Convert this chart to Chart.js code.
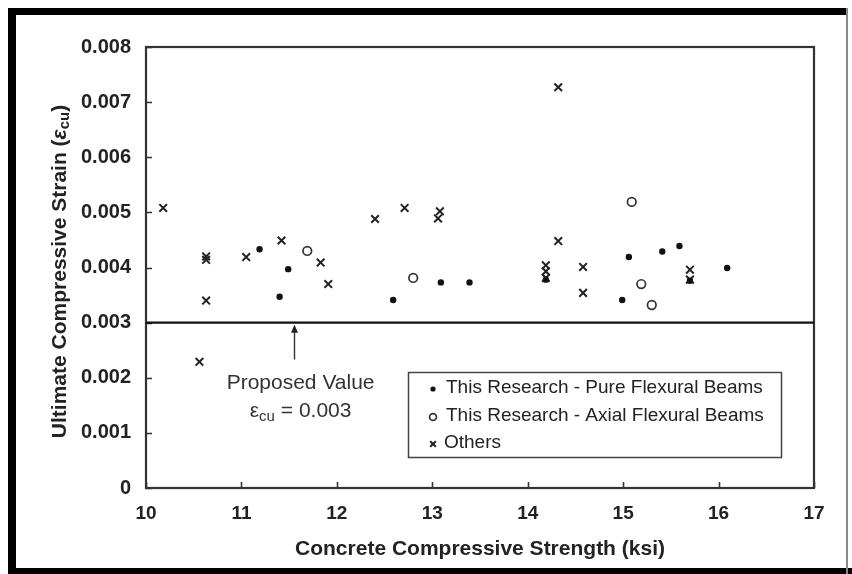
<!DOCTYPE html>
<html>
<head>
<meta charset="utf-8">
<script src="https://cdn.jsdelivr.net/npm/chart.js@4/dist/chart.umd.min.js"></script>
<style>
  html, body { margin: 0; padding: 0; background: #fff; }
  #wrap { position: relative; width: 852px; height: 574px; }
</style>
</head>
<body>
<div id="wrap"><canvas id="c" width="852" height="574"></canvas></div>
<script>
// Concrete compressive strength (ksi) vs. ultimate compressive strain
const pureStrength  = [11.19, 11.40, 11.49, 12.59, 13.09, 13.39, 14.19, 14.99, 15.06, 15.41, 15.59, 15.70, 16.09];
const pureStrain    = [0.00433, 0.00347, 0.00397, 0.00341, 0.00373, 0.00373, 0.00378, 0.00341, 0.00419, 0.00429, 0.00439, 0.00376, 0.00399];

const axialStrength = [11.69, 12.80, 15.09, 15.19, 15.30];
const axialStrain   = [0.00430, 0.00381, 0.00519, 0.00370, 0.00332];

const otherStrength = [10.18, 10.56, 10.63, 10.63, 10.63, 11.05, 11.42, 11.83, 11.91, 12.40, 12.71, 13.06, 13.08, 14.19, 14.19, 14.19, 14.32, 14.32, 14.58, 14.58, 15.70, 15.70];
const otherStrain   = [0.00508, 0.00229, 0.00420, 0.00414, 0.00340, 0.00419, 0.00449, 0.00409, 0.00370, 0.00488, 0.00508, 0.00489, 0.00502, 0.00404, 0.00393, 0.00381, 0.00727, 0.00448, 0.00401, 0.00354, 0.00396, 0.00378];

const seriesNames = ['This Research - Pure Flexural Beams', 'This Research - Axial Flexural Beams', 'Others'];

const xTickValues = [10, 11, 12, 13, 14, 15, 16, 17];
const yTickLabels = ['0', '0.001', '0.002', '0.003', '0.004', '0.005', '0.006', '0.007', '0.008'];

const proposedStrain = 0.003;     // design value line
const arrowStrength = 11.55;      // where the callout arrow points at the line
const xTitle = 'Concrete Compressive Strength (ksi)';

const TEXT = '#222';
const FONT = '"Liberation Sans", Arial, Helvetica, sans-serif';

const toPoints = (xs, ys) => xs.map((x, i) => ({ x, y: ys[i] }));

const markerStyles = [
  { pointStyle: 'circle',   radius: 3.2, borderWidth: 0,   fill: '#111', stroke: '#111' },
  { pointStyle: 'circle',   radius: 4.3, borderWidth: 1.7, fill: '#fff', stroke: '#333' },
  { pointStyle: 'crossRot', radius: 5.4, borderWidth: 2,   fill: '#222', stroke: '#222' }
];

function ds(label, xs, ys, m) {
  return {
    label,
    data: toPoints(xs, ys),
    pointStyle: m.pointStyle,
    pointRadius: m.radius,
    pointHoverRadius: m.radius,
    pointBorderWidth: m.borderWidth,
    pointBackgroundColor: m.fill,
    pointBorderColor: m.stroke,
    showLine: false
  };
}

// Page decoration, frame, proposed-value line, callout, axis titles and legend
const decor = {
  id: 'decor',
  beforeDraw(chart) {
    const { ctx } = chart;
    ctx.save();
    ctx.fillStyle = '#fff';
    ctx.fillRect(0, 0, chart.width, chart.height);
    ctx.restore();
  },
  afterDatasetsDraw(chart) {
    const { ctx, chartArea: a, scales: { x, y } } = chart;
    ctx.save();

    // plot frame
    ctx.strokeStyle = '#333';
    ctx.lineWidth = 2.2;
    ctx.strokeRect(a.left, a.top, a.right - a.left, a.bottom - a.top);

    // inward tick marks
    ctx.lineWidth = 1.6;
    ctx.beginPath();
    x.ticks.forEach(t => {
      const px = Math.round(x.getPixelForValue(t.value)) + 0.5;
      ctx.moveTo(px, a.bottom);
      ctx.lineTo(px, a.bottom - 6);
    });
    y.ticks.forEach(t => {
      const py = Math.round(y.getPixelForValue(t.value)) + 0.5;
      ctx.moveTo(a.left, py);
      ctx.lineTo(a.left + 6, py);
    });
    ctx.stroke();

    // proposed value line
    const py = y.getPixelForValue(proposedStrain);
    ctx.strokeStyle = '#111';
    ctx.lineWidth = 2.4;
    ctx.beginPath();
    ctx.moveTo(a.left, py);
    ctx.lineTo(a.right, py);
    ctx.stroke();

    // callout arrow
    const ax = Math.round(x.getPixelForValue(arrowStrength)) + 0.5;
    const tail = y.getPixelForValue(0.00233);
    ctx.strokeStyle = '#333';
    ctx.lineWidth = 1.4;
    ctx.beginPath();
    ctx.moveTo(ax, tail);
    ctx.lineTo(ax, py + 8);
    ctx.stroke();
    ctx.fillStyle = '#222';
    ctx.beginPath();
    ctx.moveTo(ax, py + 2);
    ctx.lineTo(ax - 3.5, py + 10);
    ctx.lineTo(ax + 3.5, py + 10);
    ctx.closePath();
    ctx.fill();

    // callout text
    const cx = x.getPixelForValue(11.62);
    ctx.fillStyle = '#333';
    ctx.textBaseline = 'middle';
    ctx.textAlign = 'center';
    ctx.font = '21px ' + FONT;
    ctx.fillText('Proposed Value', cx, y.getPixelForValue(0.0019));
    drawEpsLine(ctx, cx, y.getPixelForValue(0.00140), 21, ' = 0.003', false);

    // legend
    const lx = 408, ly = 372, lw = 373, lh = 85;
    ctx.strokeStyle = '#444';
    ctx.lineWidth = 1.5;
    ctx.strokeRect(lx + 0.5, ly + 0.5, lw, lh);
    const rows = [388, 416, 443];
    ctx.font = '19px ' + FONT;
    ctx.textAlign = 'left';
    ctx.textBaseline = 'middle';
    seriesNames.forEach((name, i) => {
      const m = markerStyles[i];
      ctx.save();
      ctx.fillStyle = m.fill;
      ctx.strokeStyle = m.stroke;
      ctx.lineWidth = m.borderWidth || 1;
      Chart.helpers.drawPoint(ctx, {
        pointStyle: m.pointStyle,
        radius: i === 0 ? 2.6 : (i === 1 ? 3.4 : 4),
        borderWidth: m.borderWidth,
        rotation: 0
      }, 433, rows[i] + 1);
      ctx.restore();
      ctx.fillStyle = TEXT;
      ctx.fillText(name, i === 2 ? 444 : 446, rows[i]);
    });

    ctx.restore();
  },
  afterDraw(chart) {
    const { ctx, chartArea: a } = chart;
    ctx.save();
    // axis titles
    ctx.fillStyle = TEXT;
    ctx.textAlign = 'center';
    ctx.textBaseline = 'middle';
    ctx.font = 'bold 21px ' + FONT;
    ctx.fillText(xTitle, (a.left + a.right) / 2, 549);

    ctx.translate(60, (a.top + a.bottom) / 2 + 4);
    ctx.rotate(-Math.PI / 2);
    drawRichTitle(ctx);
    ctx.restore();

    // page border
    ctx.save();
    ctx.fillStyle = '#000';
    ctx.fillRect(8, 8, 840, 7);
    ctx.fillRect(8, 8, 8, 566);
    ctx.fillRect(8, 568, 844, 6);
    ctx.fillStyle = '#888';
    ctx.fillRect(846, 8, 2, 566);
    ctx.restore();
  }
};

// "ε" followed by subscript "cu" and trailing text, centered at cx
function drawEpsLine(ctx, cx, cy, size, tail, bold) {
  const w = bold ? 'bold ' : '';
  const f1 = w + size + 'px ' + FONT;
  const f2 = w + Math.round(size * 0.72) + 'px ' + FONT;
  ctx.save();
  ctx.textAlign = 'left';
  ctx.textBaseline = 'middle';
  ctx.font = f1; const we = ctx.measureText('ε').width; const wt = ctx.measureText(tail).width;
  ctx.font = f2; const ws = ctx.measureText('cu').width;
  let x0 = cx - (we + ws + wt) / 2;
  ctx.font = f1; ctx.fillText('ε', x0, cy);
  ctx.font = f2; ctx.fillText('cu', x0 + we, cy + size * 0.3);
  ctx.font = f1; ctx.fillText(tail, x0 + we + ws, cy);
  ctx.restore();
}

function drawRichTitle(ctx) {
  const size = 21;
  const main = 'bold ' + size + 'px ' + FONT;
  const eps = 'bold italic ' + size + 'px ' + FONT;
  const sub = 'bold ' + Math.round(size * 0.7) + 'px ' + FONT;
  const parts = [
    { t: 'Ultimate Compressive Strain (', f: main, dy: 0 },
    { t: 'ε', f: eps, dy: 0 },
    { t: 'cu', f: sub, dy: 5 },
    { t: ')', f: main, dy: 0 }
  ];
  let total = 0;
  parts.forEach(p => { ctx.font = p.f; p.w = ctx.measureText(p.t).width; total += p.w; });
  let x0 = -total / 2;
  ctx.textAlign = 'left';
  ctx.textBaseline = 'middle';
  parts.forEach(p => { ctx.font = p.f; ctx.fillText(p.t, x0, p.dy); x0 += p.w; });
}

new Chart(document.getElementById('c'), {
  type: 'scatter',
  data: {
    datasets: [
      ds(seriesNames[0], pureStrength, pureStrain, markerStyles[0]),
      ds(seriesNames[1], axialStrength, axialStrain, markerStyles[1]),
      ds(seriesNames[2], otherStrength, otherStrain, markerStyles[2])
    ]
  },
  options: {
    responsive: false,
    animation: false,
    devicePixelRatio: 1,
    layout: { padding: { left: 0, right: 38, top: 47, bottom: 0 } },
    plugins: { legend: { display: false }, tooltip: { enabled: false } },
    scales: {
      x: {
        type: 'linear',
        min: xTickValues[0],
        max: xTickValues[xTickValues.length - 1],
        afterBuildTicks: s => { s.ticks = xTickValues.map(v => ({ value: v })); },
        ticks: { color: TEXT, font: { family: FONT, size: 19, weight: 'bold' }, padding: 6, maxRotation: 0 },
        grid: { display: false },
        border: { display: false },
        afterFit: s => { s.height = 86; }
      },
      y: {
        type: 'linear',
        min: 0,
        max: 0.008,
        afterBuildTicks: s => { s.ticks = yTickLabels.map(l => ({ value: parseFloat(l) })); },
        ticks: {
          color: TEXT,
          font: { family: FONT, size: 20, weight: 'bold' },
          padding: 7,
          callback: (v, i) => yTickLabels[i]
        },
        grid: { display: false },
        border: { display: false },
        afterFit: s => { s.width = 146; }
      }
    }
  },
  plugins: [decor]
});
</script>
</body>
</html>
